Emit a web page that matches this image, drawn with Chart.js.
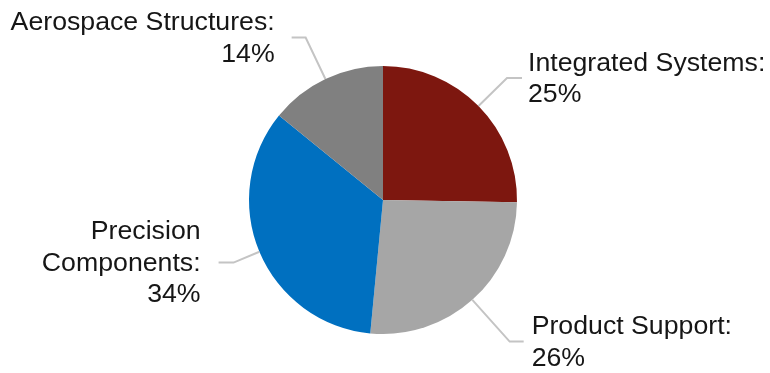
<!DOCTYPE html>
<html>
<head>
<meta charset="utf-8">
<script src="https://cdn.jsdelivr.net/npm/chart.js@4/dist/chart.umd.min.js"></script>
<style>
html,body{margin:0;padding:0;background:#fff;}
canvas{display:block;}
</style>
</head>
<body>
<canvas id="c" width="770" height="373"></canvas>
<script>
// ---- data ----
const categories = ["Integrated Systems", "Product Support", "Precision Components", "Aerospace Structures"];
const shares = [25, 26, 34, 14];
const labelLines = [
  ["Integrated Systems:", "25%"],
  ["Product Support:", "26%"],
  ["Precision", "Components:", "34%"],
  ["Aerospace Structures:", "14%"]
];
const colors = ["#7D170F", "#A6A6A6", "#0070C0", "#808080"];

// ---- layout of leader lines (elbow radius beyond pie, horizontal run, text gap) ----
const leaderLayout = [
  {elbow: 40, run: 15, gap: 6},
  {elbow: 56, run: 14, gap: 8},
  {elbow: 28, run: 15, gap: 18},
  {elbow: 46, run: 14, gap: 17}
];

const leaderPlugin = {
  id: 'leaders',
  afterDatasetsDraw(chart) {
    const ctx = chart.ctx;
    const meta = chart.getDatasetMeta(0);
    ctx.save();
    ctx.font = '26.7px "Liberation Sans", Arial, sans-serif';
    ctx.textBaseline = 'middle';
    const lh = 31.5;
    meta.data.forEach((arc, i) => {
      const p = arc.getProps(['x','y','startAngle','endAngle','outerRadius'], true);
      const mid = (p.startAngle + p.endAngle) / 2;
      const cos = Math.cos(mid), sin = Math.sin(mid);
      const L = leaderLayout[i];
      const x0 = p.x + cos * p.outerRadius, y0 = p.y + sin * p.outerRadius;
      const r1 = p.outerRadius + L.elbow;
      const x1 = p.x + cos * r1, y1 = p.y + sin * r1;
      const right = cos >= 0;
      const x2 = x1 + (right ? L.run : -L.run);
      ctx.strokeStyle = '#C4C4C4';
      ctx.lineWidth = 2;
      ctx.beginPath();
      ctx.moveTo(x0, y0);
      ctx.lineTo(x1, y1);
      ctx.lineTo(x2, y1);
      ctx.stroke();
      const lines = labelLines[i];
      ctx.fillStyle = '#161616';
      ctx.textAlign = right ? 'left' : 'right';
      const tx = x2 + (right ? L.gap : -L.gap);
      const top = y1 - (lines.length - 1) * lh / 2;
      lines.forEach((t, k) => ctx.fillText(t, tx, top + k * lh + 1));
    });
    ctx.restore();
  }
};

new Chart(document.getElementById('c'), {
  type: 'pie',
  data: {
    labels: categories,
    datasets: [{
      data: shares,
      backgroundColor: colors,
      borderWidth: 0
    }]
  },
  options: {
    responsive: false,
    animation: false,
    layout: {padding: {left: 249, right: 253, top: 66, bottom: 39}},
    plugins: {legend: {display: false}, tooltip: {enabled: false}}
  },
  plugins: [leaderPlugin]
});
</script>
</body>
</html>
